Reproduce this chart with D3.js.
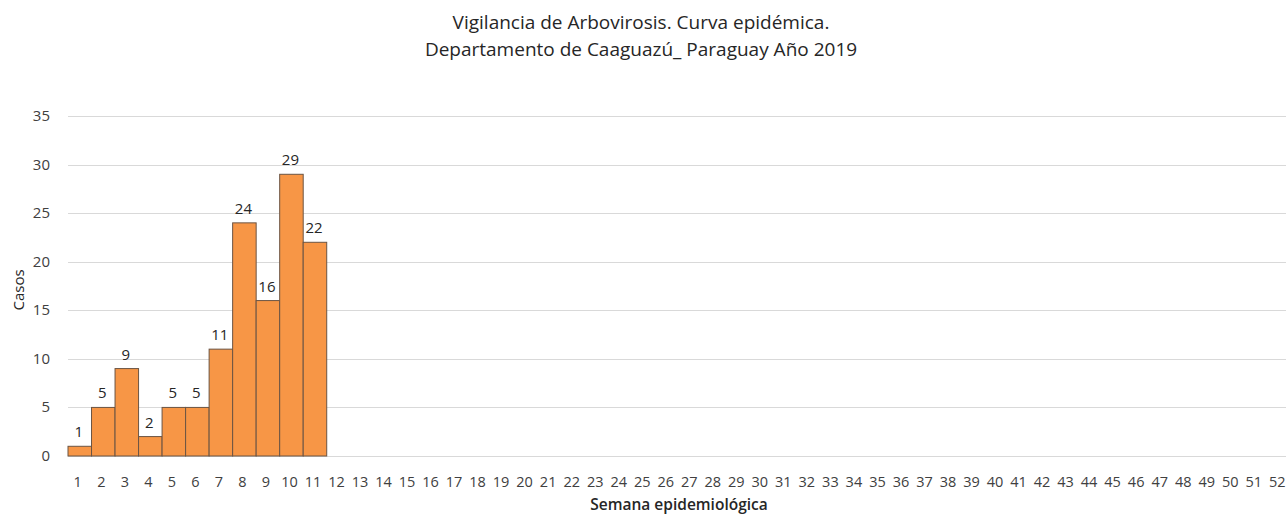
<!DOCTYPE html>
<html>
<head>
<meta charset="utf-8">
<script src="https://cdn.jsdelivr.net/npm/d3@7"></script>
<style>
  body { margin: 0; background: #fff; }
  svg { display: block; font-family: "Open Sans", "Noto Sans", sans-serif; }
</style>
</head>
<body>
<svg id="chart" width="1286" height="516"></svg>
<script>
// semanas epidemiologicas 1..52
const semanas = d3.range(1, 53).map(String);
// casos por semana (solo hasta la semana 11)
const casos = [1, 5, 9, 2, 5, 5, 11, 24, 16, 29, 22];
const yTicks = [0, 5, 10, 15, 20, 25, 30, 35];
const titulo = ["Vigilancia de Arbovirosis. Curva epidémica.", "Departamento de Caaguazú_ Paraguay Año 2019"];

const svg = d3.select("#chart");
const plotLeft = 68, plotRight = 68 + 52 * 23.52, plotTop = 116, plotBottom = 456;

const x = d3.scaleBand().domain(semanas).range([plotLeft, plotRight]).padding(0);
const y = d3.scaleLinear().domain([0, 35]).range([plotBottom, plotTop]);

// gridlines
svg.append("g")
  .selectAll("line")
  .data(yTicks)
  .join("line")
  .attr("x1", plotLeft).attr("x2", 1286)
  .attr("y1", d => Math.round(y(d)) + 0.5).attr("y2", d => Math.round(y(d)) + 0.5)
  .attr("stroke", "#d9d9d9").attr("stroke-width", 1);

// y labels
svg.append("g")
  .selectAll("text")
  .data(yTicks)
  .join("text")
  .attr("x", 50).attr("y", d => y(d) + 5)
  .attr("text-anchor", "end")
  .attr("font-size", 15).attr("fill", "#404040")
  .text(d => d);

// bars
const datos = casos.map((v, i) => ({ semana: semanas[i], valor: v }));
svg.append("g")
  .selectAll("rect")
  .data(datos)
  .join("rect")
  .attr("x", d => x(d.semana))
  .attr("y", d => y(d.valor))
  .attr("width", x.bandwidth())
  .attr("height", d => y(0) - y(d.valor))
  .attr("fill", "#F79646")
  .attr("stroke", "#6b5443").attr("stroke-width", 1);

// valores encima de barras
svg.append("g")
  .selectAll("text")
  .data(datos)
  .join("text")
  .attr("x", d => x(d.semana) + x.bandwidth() / 2 - 1)
  .attr("y", d => y(d.valor) - 9)
  .attr("text-anchor", "middle")
  .attr("font-size", 15).attr("fill", "#262626")
  .text(d => d.valor);

// x labels
svg.append("g")
  .selectAll("text")
  .data(semanas)
  .join("text")
  .attr("x", d => x(d) + x.bandwidth() / 2 - 2)
  .attr("y", 487)
  .attr("text-anchor", "middle")
  .attr("font-size", 14.5).attr("fill", "#404040")
  .text(d => d);

// titulos de ejes
svg.append("text")
  .attr("x", 679).attr("y", 510)
  .attr("text-anchor", "middle")
  .attr("font-size", 15.5).attr("font-weight", 600).attr("fill", "#262626")
  .text("Semana epidemiológica");

svg.append("text")
  .attr("transform", "translate(24,290) rotate(-90)")
  .attr("text-anchor", "middle")
  .attr("font-size", 15).attr("fill", "#262626")
  .text("Casos");

// titulo
svg.append("g")
  .selectAll("text")
  .data(titulo)
  .join("text")
  .attr("x", 641).attr("y", (d, i) => 29 + i * 27)
  .attr("text-anchor", "middle")
  .attr("font-size", 19).attr("fill", "#262626")
  .text(d => d);
</script>
</body>
</html>
